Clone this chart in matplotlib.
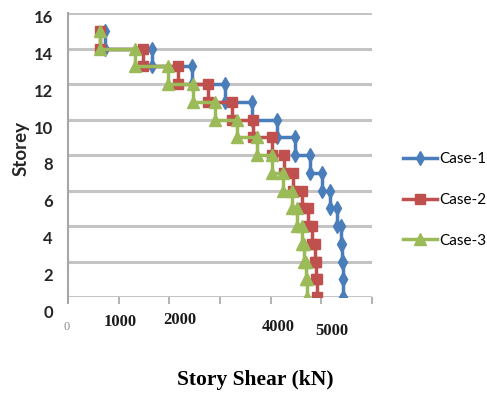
import matplotlib
matplotlib.use("Agg")
import matplotlib.pyplot as plt
import numpy as np

# Storey levels (top storey first) and story shear per storey, kN
storeys = list(range(15, 0, -1))
case1 = [730, 1660, 2450, 3100, 3630, 4120, 4480, 4780, 5010, 5170, 5310, 5390, 5410, 5430, 5430]
case2 = [630, 1480, 2170, 2760, 3240, 3650, 4030, 4260, 4440, 4620, 4740, 4820, 4880, 4900, 4910]
case3 = [630, 1320, 1970, 2470, 2900, 3340, 3730, 4030, 4240, 4420, 4520, 4620, 4660, 4700, 4720]
series_names = ["Case-1", "Case-2", "Case-3"]

y_ticks = [0, 2, 4, 6, 8, 10, 12, 14, 16]
x_tick_text = ["0", "1000", "2000", "4000", "5000"]

W, H = 487, 396
fig = plt.figure(figsize=(W / 100, H / 100), dpi=100)
ax = fig.add_axes([68 / W, 1 - 297 / H, (372 - 68) / W, (297 - 13) / H])

colors = ["#4A7EBB", "#C0504D", "#9BBB59"]
markers = ["d", "s", "^"]
msizes = [7, 7.5, 8]

for vals, name, c, m, ms in zip([case1, case2, case3], series_names, colors, markers, msizes):
    xs = np.repeat(vals, 2)
    ys = np.ravel([[s, s - 1] for s in storeys])
    ax.plot(xs, ys, color=c, lw=2.5, marker=m, ms=ms, mec=c, mfc=c, label=name,
            solid_joinstyle="miter")

ax.set_xlim(0, 6000)
ax.set_ylim(0, 16)
ax.set_xticks(np.arange(0, 6001, 1000))
ax.set_xticklabels([])
ax.set_yticks(y_ticks)
ax.set_yticklabels([])
ax.tick_params(axis="x", direction="out", length=5, color="#A6A6A6", width=1.2)
ax.tick_params(axis="y", length=0)
ax.grid(axis="y", color="#C4C4C4", lw=2.2)
ax.set_axisbelow(True)
for s in ["top", "right", "bottom"]:
    ax.spines[s].set_visible(False)
ax.spines["left"].set_color("#A6A6A6")
ax.spines["left"].set_linewidth(1.5)
ax.spines["left"].set_bounds(-0.35, 16)
ax.spines["left"].set_clip_on(False)

# y labels, slightly lower than their gridlines
for v in y_ticks:
    py = 18 + (16 - v) * (313 - 18) / 16
    fig.text(53 / W, 1 - py / H, str(v), ha="right", va="center",
             fontsize=12, fontweight="bold", family="Lato", color="#262626")

# x labels as placed text boxes
x_pos = [(67, 327), (120, 322), (180, 320), (278, 327), (332, 331)]
for t, (px, py) in zip(x_tick_text, x_pos):
    if t == "0":
        fig.text(px / W, 1 - py / H, t, ha="center", va="center", fontsize=9,
                 family="Liberation Serif", color="#8C8C8C")
    else:
        fig.text(px / W, 1 - py / H, t, ha="center", va="center", fontsize=12,
                 fontweight="bold", family="Liberation Serif", color="#1A1A1A")

fig.text(255 / W, 1 - 380 / H, "Story Shear (kN)", ha="center", va="center",
         fontsize=15.5, fontweight="bold", family="Liberation Serif")
fig.text(21 / W, 1 - 149 / H, "Storey", ha="center", va="center", rotation=90,
         fontsize=13.5, fontweight="bold", family="Lato", color="#262626")

leg = ax.legend(loc="upper left", bbox_to_anchor=(397 / W, 1 - 146 / H),
                bbox_transform=fig.transFigure, frameon=False, handlelength=2.2,
                handletextpad=0.15, labelspacing=1.75, borderaxespad=0,
                prop={"family": "Lato", "size": 11})

fig.savefig("out.png", dpi=100)
